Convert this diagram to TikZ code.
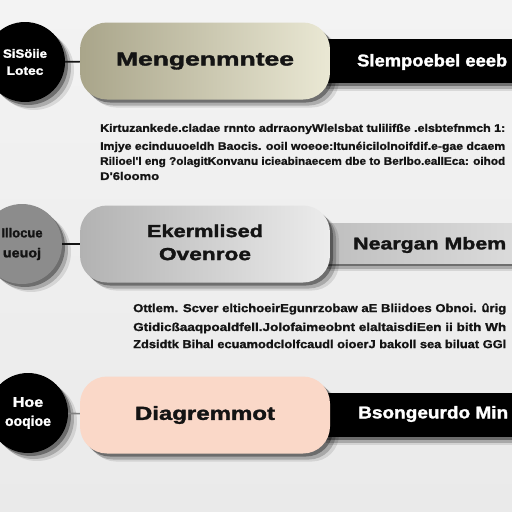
\documentclass[tikz,border=0pt]{standalone}
\usepackage{fontspec}
\setmainfont{Liberation Sans}
\newfontfamily\heavy{Liberation Sans Bold}[FakeBold=1.6]
\newfontfamily\heavypara{Liberation Sans Bold}[FakeBold=1.2]
\usepackage{graphicx}
\usetikzlibrary{shadows}
\definecolor{bgT}{HTML}{F3F3F3}
\definecolor{bgB}{HTML}{EAEAEA}
\definecolor{olvL}{HTML}{A9A58A}
\definecolor{olvR}{HTML}{EAE8D4}
\definecolor{gryL}{HTML}{B2B2B2}
\definecolor{gryR}{HTML}{ECECEC}
\definecolor{peach}{HTML}{FAD8C8}
\definecolor{midgray}{HTML}{8C8C8C}
\definecolor{barL}{HTML}{BEBEBE}
\definecolor{barR}{HTML}{DCDCDC}
\definecolor{ink}{HTML}{141414}
\newcommand\wx[2]{\scalebox{#1}[1]{#2}}
\newcommand\fitw[2]{\resizebox{#1}{\height}{#2}}
\begin{document}
\begin{tikzpicture}[x=1pt,y=-1pt,
  shad/.style={
    drop shadow={shadow xshift=3pt,shadow yshift=-3pt,fill=black,opacity=.35},
    drop shadow={shadow xshift=6pt,shadow yshift=-6pt,fill=black,opacity=.2},
    drop shadow={shadow xshift=9pt,shadow yshift=-8pt,fill=black,opacity=.1}},
  dot/.style={circle,minimum size=80pt,inner sep=0pt,align=center,
    font=\fontsize{12}{14}\selectfont\heavy,shad},
  pill/.style={rectangle,rounded corners=27pt,minimum width=250pt,
    minimum height=77pt,inner sep=0pt,align=center,
    font=\fontsize{19}{21}\selectfont\heavy,text=ink,shad},
  bar/.style={rectangle,minimum width=200pt,inner sep=0pt,shad},
  bartext/.style={anchor=west,inner sep=0pt,font=\fontsize{17}{19}\selectfont\heavy},
  para/.style={anchor=west,inner sep=0pt,text=ink,font=\fontsize{11}{12}\selectfont\heavypara},
  parb/.style={para,font=\fontsize{11.5}{12}\selectfont\heavypara},
  link/.style={draw=ink,line width=1.6pt}]
\useasboundingbox (0,0) rectangle (512,512);
\shade[top color=bgT,bottom color=bgB] (0,0) rectangle (512,512);
% ---------- row 1
\node[bar,fill=black,minimum height=44pt] (b1) at (420,61) {};
\node[bartext,text=white] (b1t) at (357,62) {\fitw{150pt}{Slempoebel eeeb}};
\node[dot,fill=black,text=white] (c1) at (25,62) {\wx{1.1}{SiSöiie}\\[3pt]\wx{1.15}{Lotec}};
\node[pill,left color=olvL,right color=olvR] (p1) at (205,61) {\raisebox{2pt}{\fitw{178pt}{Mengenmntee}}};
\draw[link] (c1) -- (p1);
\node[para] (t1a) at (100,129) {\fitw{405pt}{Kirtuzankede.cladae rnnto adrraonyWlelsbat tulilifße .elsbtefnmch 1:}};
\node[para] (t1b) at (100,147) {\fitw{405pt}{Imjye ecinduuoeldh Baocis. ooil woeoe:Itunéicilolnoifdif.e-gae dcaem}};
\node[para] (t1c) at (100,162) {\fitw{405pt}{Rilioel'l eng ?olagitKonvanu icieabinaecem dbe to Berlbo.eallEca: oihod}};
\node[para] (t1d) at (100,176) {\fitw{59pt}{D'6loomo}};
% ---------- row 2
\node[bar,left color=barL,right color=barR,minimum height=40pt] (b2) at (420,243) {};
\node[bartext,text=ink] (b2t) at (353,245) {\fitw{153pt}{Neargan Mbem}};
\node[dot,fill=midgray,text=ink,font=\fontsize{13}{15}\selectfont\heavy] (c2) at (22,244) {\wx{1.0}{Illocue}\\[5pt]\wx{1.1}{ueuoj}};
\node[pill,left color=gryL,right color=gryR,font=\fontsize{17.5}{23}\selectfont\heavy] (p2) at (205,244) {\raisebox{5pt}{\begin{tabular}{@{}c@{}}\fitw{116pt}{Ekermlised}\\\fitw{92pt}{Ovenroe}\end{tabular}}};
\draw[link] (c2) -- (p2);
\node[parb] (t2a) at (133,309) {\fitw{373pt}{Ottlem. Scver eltichoeirEgunrzobaw aE Bliidoes Obnoi. ûrig}};
\node[parb] (t2b) at (133,328) {\fitw{373pt}{Gtidicßaaqpoaldfell.Jolofaimeobnt elaltaisdiEen ii bith Wh}};
\node[parb] (t2c) at (133,344) {\fitw{373pt}{Zdsidtk Bihal ecuamodclolfcaudl oioerJ bakoll sea biluat GGl}};
% ---------- row 3
\node[bar,fill=black,minimum height=44pt] (b3) at (420,415) {};
\node[bartext,text=white] (b3t) at (358,414) {\fitw{150pt}{Bsongeurdo Min}};
\node[dot,fill=black,text=white,font=\fontsize{14}{16}\selectfont\heavy] (c3) at (28,413) {\wx{1.15}{Hoe}\\[3pt]\wx{1.0}{ooqioe}};
\node[pill,fill=peach] (p3) at (205,415) {\fitw{140pt}{Diagremmot}};
\draw[link,draw=gray] (c3) -- (p3);
\end{tikzpicture}
\end{document}
